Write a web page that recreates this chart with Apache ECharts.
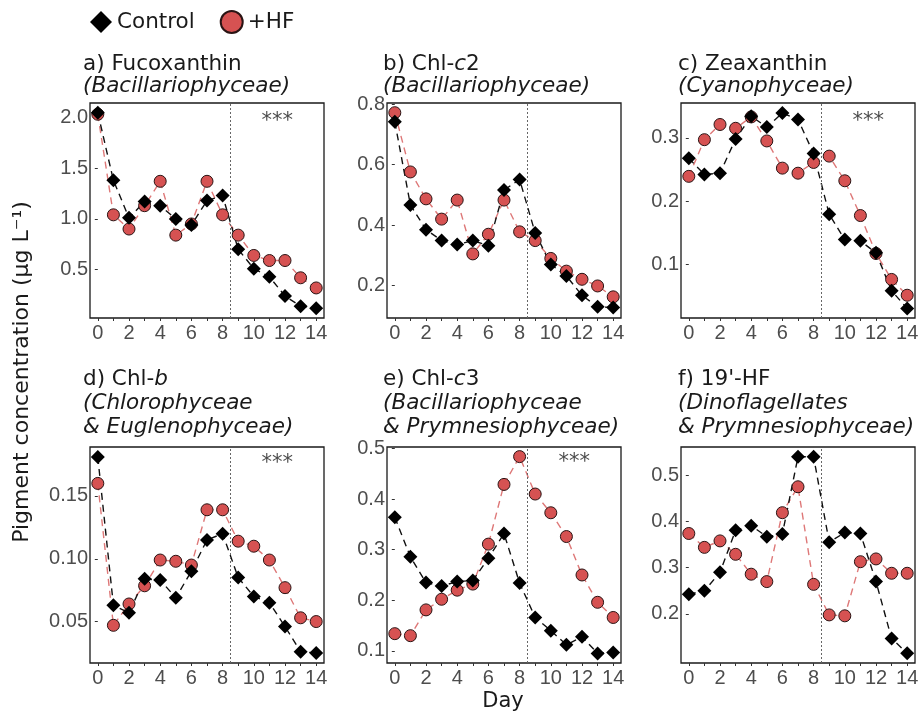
<!DOCTYPE html>
<html><head><meta charset="utf-8">
<script src="https://cdn.jsdelivr.net/npm/echarts@6/dist/echarts.min.js"></script>
<style>html,body{margin:0;padding:0;background:#fff}#c{width:923px;height:713px}</style>
</head><body><div id="c"></div><script>
// ---------- data ----------
const days = [0,1,2,3,4,5,6,7,8,9,10,11,12,13,14];
const dayTickLabels = [0,2,4,6,8,10,12,14];
const treatmentStartDay = 8.5;

const fucoControl = [2.045,1.38,1.01,1.17,1.13,1.00,0.94,1.18,1.23,0.70,0.51,0.43,0.24,0.14,0.12];
const fucoHF      = [2.03,1.04,0.90,1.13,1.37,0.84,0.95,1.37,1.04,0.84,0.64,0.59,0.59,0.42,0.32];
const fucoTicks   = [0.5,1.0,1.5,2.0];
const fucoRange   = [0.024,2.141];

const chlc2Control = [0.742,0.467,0.385,0.349,0.336,0.349,0.332,0.516,0.551,0.374,0.270,0.232,0.168,0.130,0.128];
const chlc2HF      = [0.772,0.576,0.487,0.420,0.483,0.305,0.370,0.483,0.378,0.349,0.290,0.248,0.221,0.199,0.163];
const chlc2Ticks   = [0.2,0.4,0.6,0.8];
const chlc2Range   = [0.093,0.804];

const zeaControl = [0.2675,0.242,0.244,0.298,0.334,0.317,0.339,0.329,0.275,0.179,0.139,0.137,0.118,0.058,0.030];
const zeaHF      = [0.239,0.297,0.321,0.315,0.333,0.295,0.252,0.244,0.261,0.271,0.232,0.177,0.117,0.076,0.051];
const zeaTicks   = [0.1,0.2,0.3];
const zeaRange   = [0.015,0.355];

const chlbControl = [0.181,0.063,0.057,0.084,0.083,0.069,0.090,0.115,0.120,0.085,0.070,0.065,0.046,0.026,0.025];
const chlbHF      = [0.160,0.047,0.064,0.0785,0.099,0.098,0.095,0.139,0.139,0.114,0.110,0.099,0.077,0.053,0.050];
const chlbTicks   = [0.05,0.10,0.15];
const chlbRange   = [0.017,0.189];

const chlc3Control = [0.364,0.286,0.235,0.228,0.237,0.239,0.283,0.332,0.234,0.166,0.140,0.112,0.128,0.095,0.097];
const chlc3HF      = [0.134,0.130,0.181,0.202,0.220,0.232,0.311,0.429,0.484,0.410,0.373,0.326,0.250,0.196,0.166];
const chlc3Ticks   = [0.1,0.2,0.3,0.4,0.5];
const chlc3Range   = [0.076,0.503];

const hfControl = [0.2425,0.250,0.290,0.381,0.391,0.367,0.373,0.540,0.540,0.355,0.376,0.374,0.270,0.147,0.115];
const hfHF      = [0.374,0.344,0.358,0.329,0.286,0.270,0.419,0.475,0.264,0.198,0.196,0.313,0.319,0.288,0.288];
const hfTicks   = [0.2,0.3,0.4,0.5];
const hfRange   = [0.094,0.561];

// significance marks: [day, value] or null
const fucoSig  = [11.5, 1.96];
const chlc2Sig = null;
const zeaSig   = [11.5, 0.326];
const chlbSig  = [11.5, 0.176];
const chlc3Sig = [11.5, 0.472];
const hfSig    = null;

const titles = [
  'a) Fucoxanthin\n{i|(Bacillariophyceae)}',
  'b) Chl-{i|c}2\n{i|(Bacillariophyceae)}',
  'c) Zeaxanthin\n{i|(Cyanophyceae)}',
  'd) Chl-{i|b}\n{i|(Chlorophyceae}\n{i|& Euglenophyceae)}',
  'e) Chl-{i|c}3\n{i|(Bacillariophyceae}\n{i|& Prymnesiophyceae)}',
  'f) 19\'-HF\n{i|(Dinoflagellates}\n{i|& Prymnesiophyceae)}'
];

// ---------- layout ----------
const panels = [
  {ctl:fucoControl,  hf:fucoHF,  ticks:fucoTicks,  range:fucoRange,  dec:1, sig:fucoSig},
  {ctl:chlc2Control, hf:chlc2HF, ticks:chlc2Ticks, range:chlc2Range, dec:1, sig:chlc2Sig},
  {ctl:zeaControl,   hf:zeaHF,   ticks:zeaTicks,   range:zeaRange,   dec:1, sig:zeaSig},
  {ctl:chlbControl,  hf:chlbHF,  ticks:chlbTicks,  range:chlbRange,  dec:2, sig:chlbSig},
  {ctl:chlc3Control, hf:chlc3HF, ticks:chlc3Ticks, range:chlc3Range, dec:1, sig:chlc3Sig},
  {ctl:hfControl,    hf:hfHF,    ticks:hfTicks,    range:hfRange,    dec:1, sig:hfSig}
];
const colLeft = [90, 387, 681];
const rowTop = [103, 447];
const rowH = [215, 216];
const W = 234;
const titleLeft = [83, 383, 678];
const titleTop = [53, 367];
const titleLH = [22, 24];

const FONT = 'DejaVu Sans';
const NUMFONT = 'Liberation Sans';
const TFS = 21.5;

const grids = [], xAxes = [], yAxes = [], series = [], titleComps = [];
panels.forEach((p, i) => {
  const r = Math.floor(i / 3), c = i % 3;
  grids.push({left: colLeft[c], top: rowTop[r], width: W, height: rowH[r],
    show: true, borderColor: '#1a1a1a', borderWidth: 1.3, backgroundColor: '#fff'});
  xAxes.push({type: 'value', gridIndex: i, min: -0.5, max: 14.5, splitNumber: 7,
    axisLine: {show: false}, splitLine: {show: false},
    axisTick: {show: true, length: 3, inside: false, customValues: days, lineStyle: {color: '#333', width: 1}},
    axisLabel: {show: true, margin: 5, customValues: dayTickLabels, color: '#4d4d4d',
      fontFamily: NUMFONT, fontSize: 20}});
  yAxes.push({type: 'value', gridIndex: i, min: p.range[0], max: p.range[1],
    axisLine: {show: false}, splitLine: {show: false},
    axisTick: {show: true, length: 3, inside: false, customValues: p.ticks, lineStyle: {color: '#333', width: 1}},
    axisLabel: {show: true, margin: 2, customValues: p.ticks, color: '#4d4d4d',
      fontFamily: NUMFONT, fontSize: 20, formatter: v => Number(v).toFixed(p.dec)}});
  const hfPts = days.map((d, k) => [d, p.hf[k]]);
  const ctlPts = days.map((d, k) => [d, p.ctl[k]]);
  series.push({type: 'line', name: 'hf-line-' + i, xAxisIndex: i, yAxisIndex: i, data: hfPts,
    symbol: 'none', silent: true, z: 2,
    lineStyle: {color: '#de7878', width: 1.4, type: [7, 5]}});
  series.push({type: 'line', name: 'ctl-line-' + i, xAxisIndex: i, yAxisIndex: i, data: ctlPts,
    symbol: 'none', silent: true, z: 3,
    lineStyle: {color: '#111', width: 1.4, type: [7, 5]},
    markLine: {symbol: 'none', silent: true, label: {show: false},
      lineStyle: {type: [2, 2], color: '#666', width: 1},
      data: [{xAxis: treatmentStartDay}]}});
  series.push({type: 'scatter', name: '+HF', xAxisIndex: i, yAxisIndex: i, data: hfPts,
    symbol: 'circle', symbolSize: 12, z: 4,
    itemStyle: {color: '#d65252', borderColor: '#2a1414', borderWidth: 1, opacity: 1}});
  series.push({type: 'scatter', name: 'Control', xAxisIndex: i, yAxisIndex: i, data: ctlPts,
    symbol: 'diamond', symbolSize: 14, z: 5,
    itemStyle: {color: '#000', opacity: 1}});
  if (p.sig) {
    series.push({type: 'scatter', name: 'sig-' + i, xAxisIndex: i, yAxisIndex: i, data: [p.sig],
      symbolSize: 1, silent: true, z: 6, itemStyle: {color: 'rgba(0,0,0,0)'},
      label: {show: true, position: 'inside', formatter: '***', color: '#1a1a1a',
        fontFamily: FONT, fontSize: 21}});
  }
  titleComps.push({text: titles[i], left: titleLeft[c], top: titleTop[r], padding: 0,
    textStyle: {fontFamily: FONT, fontSize: TFS, fontWeight: 'normal', color: '#1a1a1a',
      lineHeight: titleLH[r],
      rich: {i: {fontFamily: FONT, fontSize: TFS, fontStyle: 'italic', color: '#1a1a1a', lineHeight: titleLH[r]}}}});
});

const option = {
  animation: false,
  backgroundColor: '#fff',
  title: titleComps,
  legend: {left: 85, top: 5, itemWidth: 22, itemHeight: 22, itemGap: 25, selectedMode: false,
    textStyle: {fontFamily: FONT, fontSize: 21.5, color: '#1a1a1a'},
    data: [{name: 'Control', icon: 'diamond'}, {name: '+HF', icon: 'circle'}]},
  grid: grids, xAxis: xAxes, yAxis: yAxes, series: series,
  graphic: [
    {type: 'text', x: 22, y: 372, rotation: Math.PI / 2,
      style: {text: 'Pigment concentration (µg L⁻¹)', font: '22px "DejaVu Sans"', fill: '#1a1a1a',
        align: 'center', verticalAlign: 'middle'}},
    {type: 'text', x: 503, y: 702,
      style: {text: 'Day', font: '21px "DejaVu Sans"', fill: '#1a1a1a', align: 'center', verticalAlign: 'middle'}}
  ]
};
const chart = echarts.init(document.getElementById('c'));
chart.setOption(option);
</script></body></html>
